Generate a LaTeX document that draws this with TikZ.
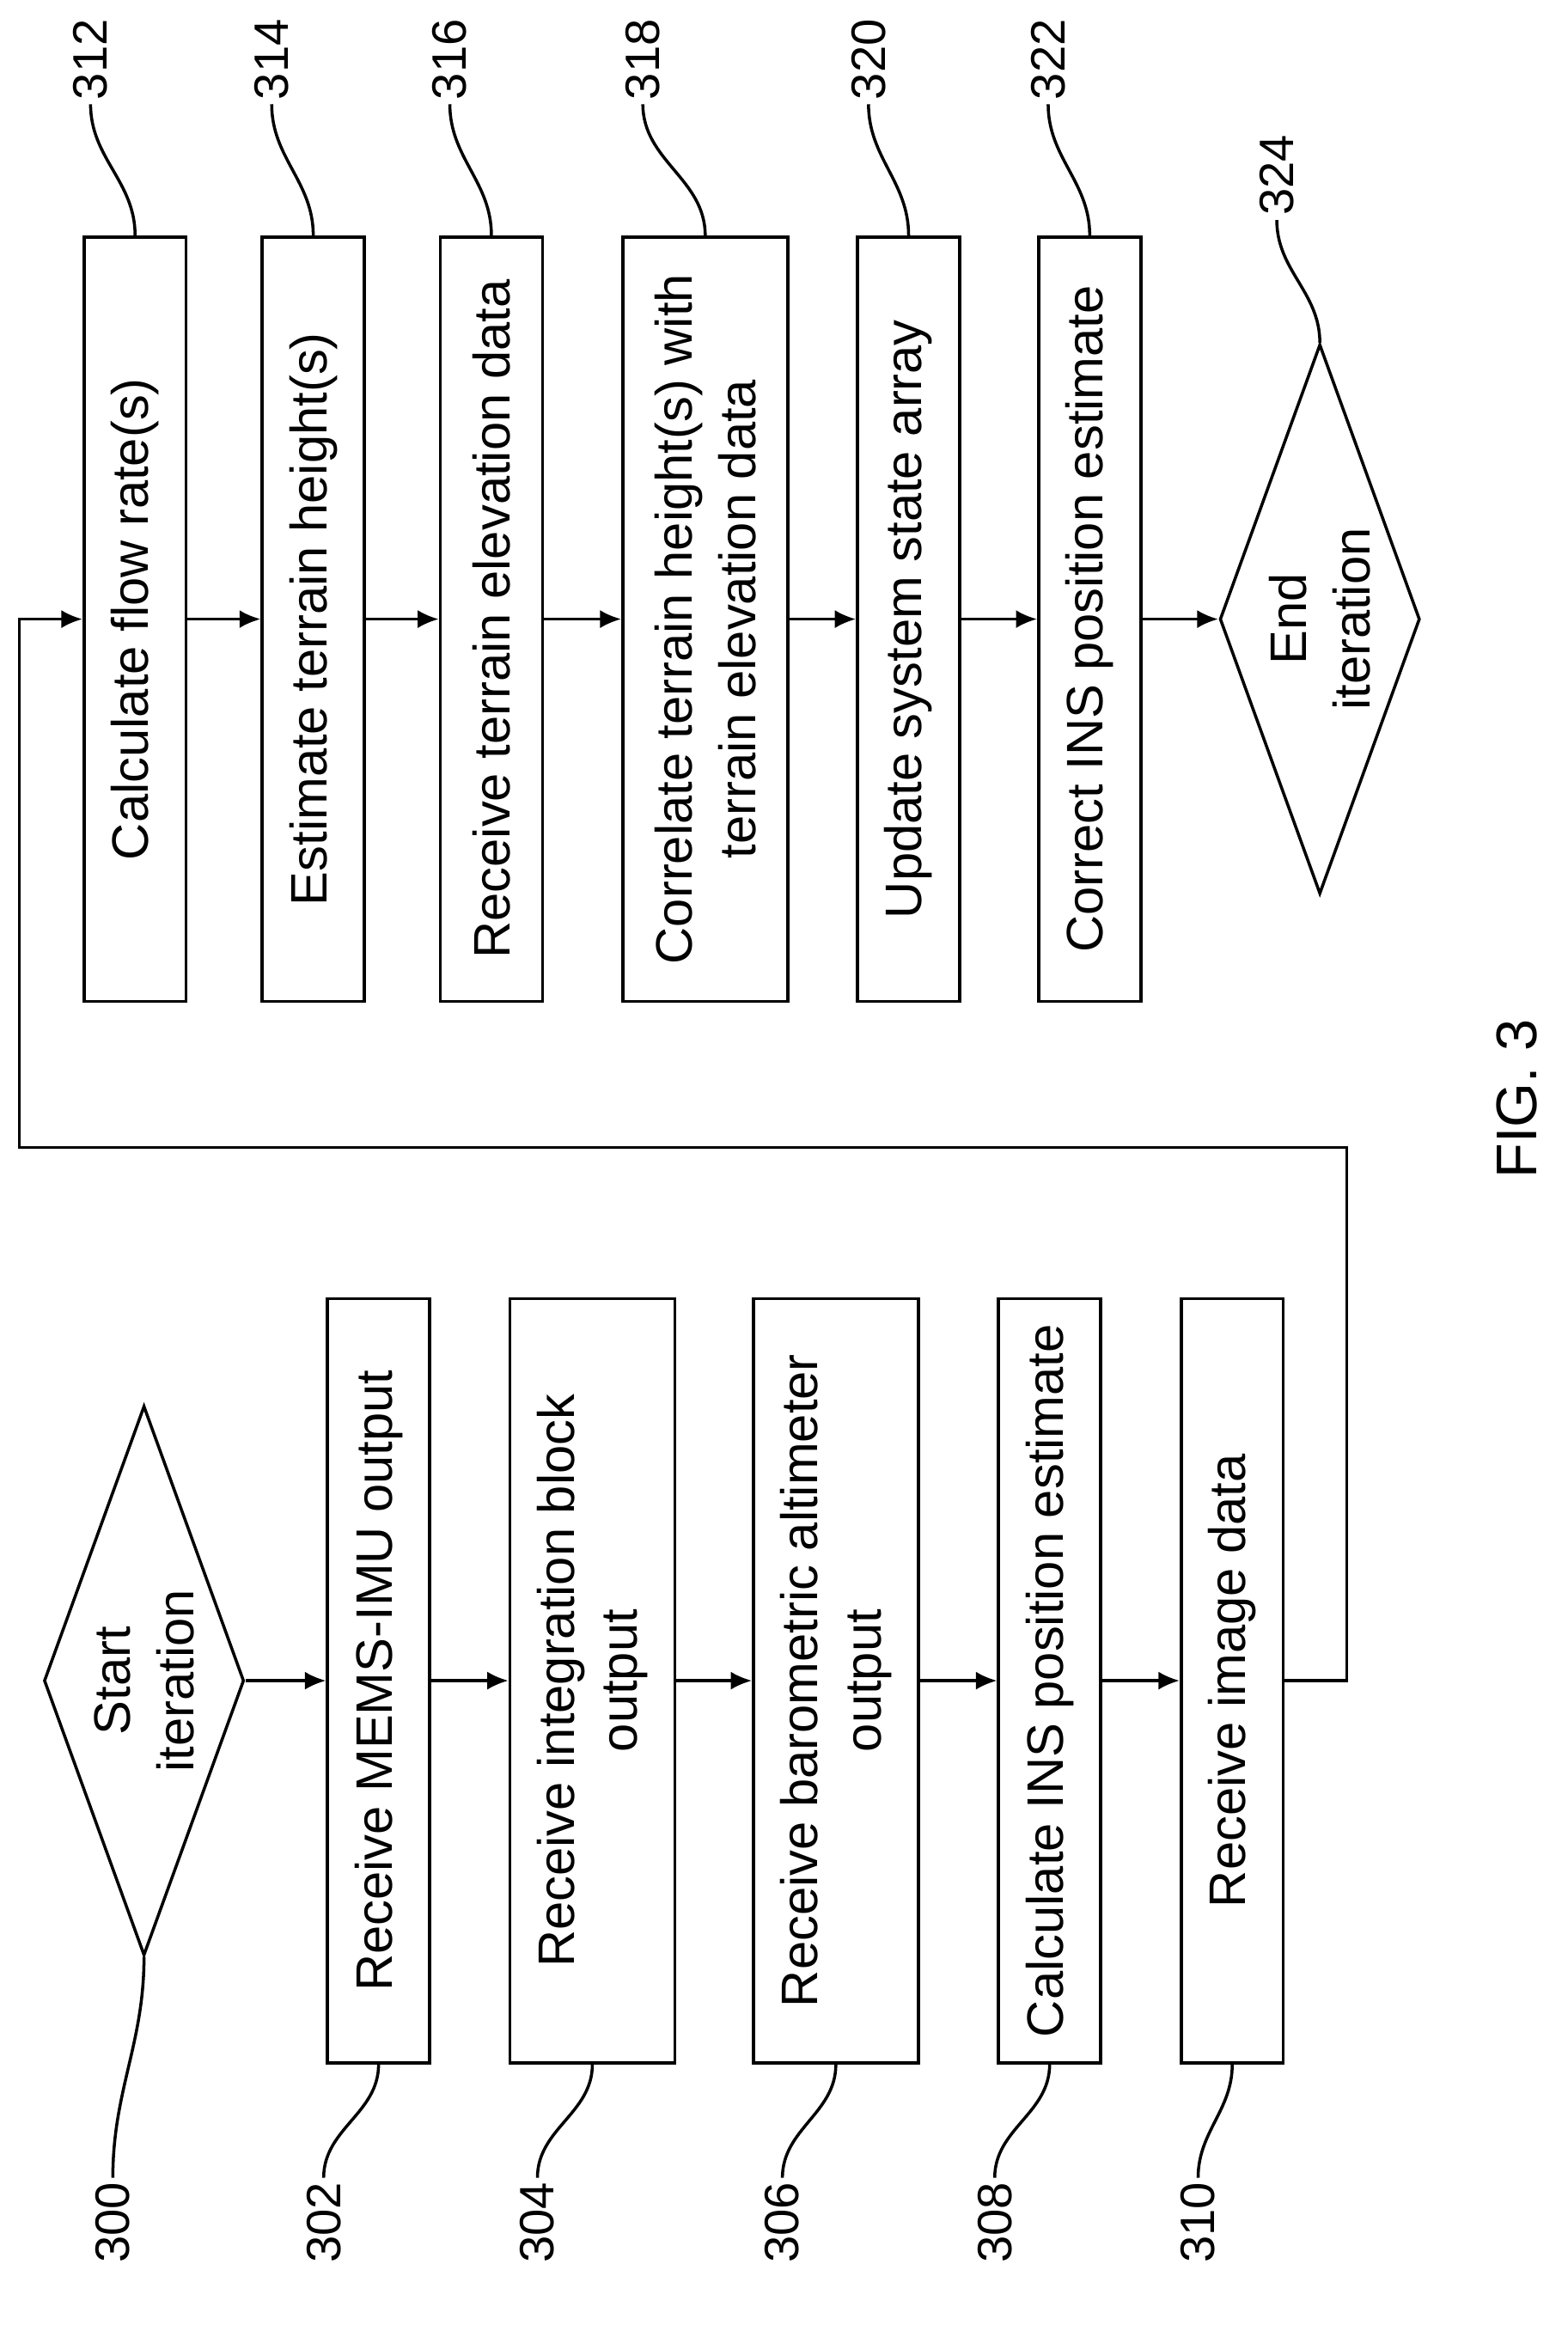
\documentclass[tikz,border=0pt]{standalone}
\usepackage{fontspec}
\setmainfont{Liberation Sans}
\usetikzlibrary{shapes.geometric,arrows.meta}
\begin{document}
\begin{tikzpicture}[x=0.01729cm,y=-0.01729cm,line width=1pt,
    font=\fontsize{17}{21}\selectfont]
    % Styles
    \tikzstyle{step box}=[draw,rotate=90,minimum width=8.9cm,align=center,inner sep=0pt]
    \tikzstyle{thin box}=[step box,minimum height=1.19cm]
    \tikzstyle{wide box}=[step box,minimum height=1.92cm]
    \tikzstyle{decision}=[draw,diamond,rotate=90,aspect=2.74,minimum width=6.4cm,
        minimum height=2.33cm,inner sep=0pt,align=center]
    \tikzstyle{ref}=[rotate=90,inner sep=1pt,font=\fontsize{16}{19}\selectfont]
    \tikzstyle{flow}=[-{Latex[length=7pt,width=6pt]}]
    \useasboundingbox (0,0) rectangle (1056,1566);
    %left column
    \node[decision] (start) at (97,1132) {Start\\iteration};
    \node[thin box] (b302) at (255,1132) {Receive MEMS-IMU output};
    \node[wide box] (b304) at (399,1132) {Receive integration block\\output};
    \node[wide box] (b306) at (563,1132) {Receive barometric altimeter\\output};
    \node[thin box] (b308) at (707,1132) {Calculate INS position estimate};
    \node[thin box] (b310) at (830,1132) {Receive image data};
    %right column
    \node[thin box] (b312) at (91,417) {Calculate flow rate(s)};
    \node[thin box] (b314) at (211,417) {Estimate terrain height(s)};
    \node[thin box] (b316) at (331,417) {Receive terrain elevation data};
    \node[wide box] (b318) at (475,417) {Correlate terrain height(s) with\\terrain elevation data};
    \node[thin box] (b320) at (612,417) {Update system state array};
    \node[thin box] (b322) at (734,417) {Correct INS position estimate};
    \node[decision] (end) at (889,417) {End\\iteration};
    %arrows
    \draw[flow] (start.south) -- (b302.north);
    \foreach \a/\b in {b302/b304,b304/b306,b306/b308,b308/b310,
        b312/b314,b314/b316,b316/b318,b318/b320,b320/b322,b322/end}
        \draw[flow] (\a.south) -- (\b.north);
    \coordinate (c1) at (907,1132);
    \coordinate (c2) at (907,773);
    \coordinate (c3) at (13,773);
    \coordinate (c4) at (13,417);
    \draw[flow] (b310.south) -- (c1) -- (c2) -- (c3) -- (c4) -- (b312.north);
    %reference numerals
    \foreach \n/\x/\lx in {300/97/76,302/255/218,304/399/362,306/563/527,308/707/670,310/830/807}
    {
        \node[ref] (l\n) at (\lx,1497) {\n};
        \ifnum\n=300
            \draw (start.west) to[out=-90,in=90] (l\n.east);
        \else
            \draw (b\n.west) to[out=-90,in=90] (l\n.east);
        \fi
    }
    \foreach \n/\x/\lx in {312/91/61,314/211/183,316/331/303,318/475/433,320/612/585,322/734/706}
    {
        \node[ref] (l\n) at (\lx,40) {\n};
        \draw (b\n.east) to[out=90,in=-90] (l\n.west);
    }
    \node[ref] (l324) at (860,118) {324};
    \draw (end.east) to[out=90,in=-90] (l324.west);
    \node[rotate=90,font=\fontsize{19}{23}\selectfont] (fig) at (1022,740) {FIG. 3};
\end{tikzpicture}
\end{document}
